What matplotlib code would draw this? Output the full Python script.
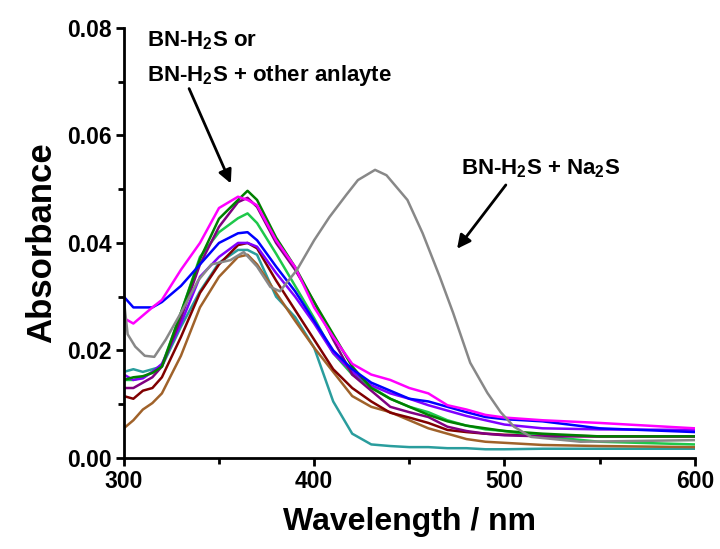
import numpy as np
import matplotlib
matplotlib.use('Agg')
import matplotlib.pyplot as plt

## Données
wl = [300, 305, 310, 315, 320, 330, 340, 350, 360, 365, 370, 380, 390, 400,
      410, 420, 430, 440, 450, 460, 470, 480, 490, 500, 520, 550, 600]

A_blue = [.030, .028, .028, .028, .029, .032, .036, .040, .0418, .042, .0405, .0356, .031, .0255,
          .020, .0165, .014, .0125, .011, .0105, .0095, .0085, .0076, .0072, .0068, .0055, .0048]
A_magenta = [.026, .025, .0265, .028, .0294, .035, .040, .0465, .0486, .048, .047, .0405, .0355, .028,
             .0225, .0175, .0155, .0145, .013, .012, .0098, .009, .008, .0075, .007, .0065, .0055]
A_dkgreen = [.0145, .015, .0152, .0158, .017, .027, .037, .0445, .048, .0497, .048, .041, .0355, .029,
             .023, .017, .013, .011, .0095, .008, .0068, .006, .0055, .005, .0045, .004, .004]
A_purple = [.013, .013, .014, .015, .017, .026, .036, .043, .0476, .0484, .0467, .040, .035, .029,
            .022, .0155, .0125, .0095, .0085, .0076, .0058, .005, .0045, .0042, .004, .004, .004]
A_green = [.0145, .0145, .015, .016, .0172, .027, .0374, .042, .0446, .0455, .0437, .038, .032, .026,
           .0195, .0155, .0132, .011, .0095, .0085, .007, .006, .0053, .005, .004, .003, .0025]
A_violet = [.0155, .0145, .0148, .016, .0175, .025, .0337, .0374, .040, .040, .0393, .0344, .030, .025,
            .0195, .016, .0135, .012, .011, .0098, .0088, .0078, .007, .0062, .0055, .0053, .0052]
A_wine = [.0115, .011, .0125, .013, .015, .0225, .0307, .036, .0396, .040, .039, .033, .0275, .022,
          .0165, .013, .0105, .0084, .0075, .0065, .0052, .0048, .0045, .0043, .0042, .004, .004]
A_teal = [.016, .0165, .016, .0165, .017, .0244, .031, .0363, .0387, .0387, .0378, .030, .0262, .0205,
          .0105, .0045, .0025, .0022, .002, .002, .0018, .0018, .0016, .0016, .0017, .0017, .0017]
A_brown = [.0055, .007, .009, .0102, .012, .019, .028, .0337, .0374, .0378, .036, .0307, .0255, .0205,
           .016, .0115, .0095, .0085, .007, .0055, .0045, .0035, .003, .0028, .0024, .0022, .002]

# courbe BN-H2S + Na2S
wl_na2s = [300, 302, 306, 311, 316, 322, 330, 339, 346, 356, 363, 370, 377, 382, 391, 400,
           408, 417, 423, 432, 438, 449, 457, 466, 473, 482, 491, 498, 505, 514, 540, 600]
A_na2s = [.0294, .023, .0207, .019, .0188, .022, .027, .033, .036, .0368, .0383, .0356, .0318, .031, .035, .0405,
          .0448, .049, .0517, .0536, .0526, .048, .0418, .0337, .027, .0177, .0121, .0085, .0058, .0039, .003, .0033]

xticks = [300, 400, 500, 600]
yticks = [0.00, 0.02, 0.04, 0.06, 0.08]

## Tracé
plt.rcParams['font.family'] = ['Liberation Sans', 'DejaVu Sans']
plt.rcParams['font.weight'] = 'bold'
plt.rcParams['mathtext.fontset'] = 'custom'
plt.rcParams['mathtext.rm'] = 'Liberation Sans:bold'
plt.rcParams['mathtext.bf'] = 'Liberation Sans:bold'
plt.rcParams['mathtext.default'] = 'bf'

fig = plt.figure(figsize=(7.2, 5.49), dpi=100)
ax = fig.add_axes([0.172, 0.166, 0.793, 0.783])

lw = 1.8
ax.plot(wl, A_teal, color='#2a9d9d', lw=lw)
ax.plot(wl, A_brown, color='#a0622a', lw=lw)
ax.plot(wl, A_wine, color='#800000', lw=lw)
ax.plot(wl, A_green, color='#1ec84a', lw=lw)
ax.plot(wl, A_violet, color='#8000ff', lw=lw)
ax.plot(wl, A_purple, color='#800080', lw=lw)
ax.plot(wl, A_dkgreen, color='#008000', lw=lw)
ax.plot(wl, A_blue, color='#0000ff', lw=lw)
ax.plot(wl, A_magenta, color='#ff00ff', lw=lw)
ax.plot(wl_na2s, A_na2s, color='#888888', lw=lw)

ax.set_xlim(300, 600)
ax.set_ylim(0, 0.08)
ax.set_xticks(xticks)
ax.set_xticks([350, 450, 550], minor=True)
ax.set_yticks(yticks)
ax.set_yticks([0.01, 0.03, 0.05, 0.07], minor=True)
ax.set_yticklabels(['%.2f' % v for v in yticks])

for s in ['top', 'right']:
    ax.spines[s].set_visible(False)
for s in ['left', 'bottom']:
    ax.spines[s].set_linewidth(2)
ax.tick_params(which='major', direction='out', length=6, width=2, labelsize=16.5, pad=3)
ax.tick_params(which='minor', direction='out', length=4, width=2)

ax.set_xlabel('Wavelength / nm', fontsize=23, fontweight='bold', labelpad=10)
ax.set_ylabel('Absorbance', fontsize=25, fontweight='bold', labelpad=6)

# annotations
ax.text(312, 0.0777, r'BN-H$_2$S or', fontsize=16, va='center', ha='left')
ax.text(312, 0.0712, r'BN-H$_2$S + other anlayte', fontsize=16, va='center', ha='left')
ax.annotate('', xy=(356.8, 0.0506), xytext=(333.7, 0.0692),
            arrowprops=dict(arrowstyle='-|>', color='black', lw=2, mutation_scale=20))
ax.text(477, 0.0539, r'BN-H$_2$S + Na$_2$S', fontsize=16, va='center', ha='left')
ax.annotate('', xy=(474.2, 0.0385), xytext=(501.6, 0.0512),
            arrowprops=dict(arrowstyle='-|>', color='black', lw=2, mutation_scale=20))

plt.savefig('out.png', dpi=100)
